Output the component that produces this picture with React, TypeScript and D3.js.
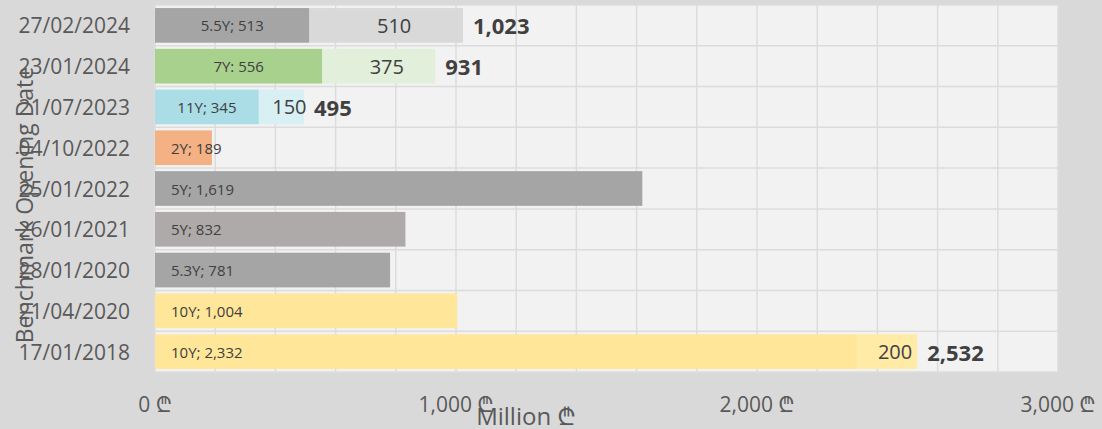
import * as d3 from 'd3';

const dates = ["27/02/2024", "23/01/2024", "21/07/2023", "04/10/2022", "25/01/2022", "26/01/2021", "28/01/2020", "21/04/2020", "17/01/2018"]
const baseValues = [513, 556, 345, 189, 1619, 832, 781, 1004, 2332]
const extraValues = [510, 375, 150, 0, 0, 0, 0, 0, 200]
const baseLabels = ["5.5Y; 513", "7Y: 556", "11Y; 345", "2Y; 189", "5Y; 1,619", "5Y; 832", "5.3Y; 781", "10Y; 1,004", "10Y; 2,332"]
// where the tenor label sits in the bar: centre or inside base
const labelPos = ["center", "center", "center", "base", "base", "base", "base", "base", "base"]
const baseColors = ["#a5a5a5", "#a9d18e", "#aadde5", "#f4b183", "#a5a5a5", "#aeaaaa", "#a5a5a5", "#ffe699", "#ffe699"]
const extraColors = ["#d9d9d9", "#e2efda", "#d8eff3", "#ffffff", "#ffffff", "#ffffff", "#ffffff", "#ffffff", "#ffeaa6"]
const xTicks = [0, 1000, 2000, 3000]

const W = 1102
const H = 429
const FONT = "'Open Sans', 'Noto Sans', sans-serif"
const TEXT = "#595959"
const LABEL = "#404040"

const App = () => {
    const x = d3.scaleLinear().domain([0, 3000]).range([155, 1058])
    const y = d3.scaleBand<string>().domain(dates).range([5, 372]).paddingInner(0.15).paddingOuter(0.075)
    const fmt = d3.format(",")

    const rows = dates.map((d, i) => ({
        date: d,
        base: baseValues[i],
        extra: extraValues[i],
        total: baseValues[i] + extraValues[i],
        label: baseLabels[i],
        pos: labelPos[i],
        color: baseColors[i],
        extraColor: extraColors[i]
    }))

    const step = y.step()
    const gridX = d3.range(0, 3001, 200)
    const gridY = d3.range(0, dates.length + 1).map(i => 5 + i * step)

    return (
        <svg width={W} height={H} style={{position: 'absolute', left: 0, top: 0}} fontFamily={FONT}>
            <rect x={0} y={0} width={W} height={H} fill="#d9d9d9" />
            <rect x={x(0)} y={5} width={x(3000) - x(0)} height={367} fill="#f2f2f2" />

            {/* gridlines */}
            {gridX.map(v => (
                <line key={'gx' + v} x1={x(v)} x2={x(v)} y1={5} y2={372} stroke="#dcdcdc" strokeWidth={1.5} />
            ))}
            {gridY.map((v, i) => (
                <line key={'gy' + i} x1={x(0)} x2={x(3000)} y1={v} y2={v} stroke="#dcdcdc" strokeWidth={1.5} />
            ))}

            {/* bars */}
            {rows.map(r => {
                const y0 = y(r.date) ?? 0
                const bh = y.bandwidth()
                const cy = y0 + bh / 2
                const stacked = r.extra > 0
                const centred = r.pos === "center"
                return (
                    <g key={r.date}>
                        <rect x={x(0)} y={y0} width={x(r.base) - x(0)} height={bh} fill={r.color} />
                        {stacked && <rect x={x(r.base)} y={y0} width={x(r.total) - x(r.base)} height={bh} fill={r.extraColor} />}
                        <text x={centred ? (x(0) + x(r.base)) / 2 : x(0) + 16} y={cy} dominantBaseline="central"
                              textAnchor={centred ? "middle" : "start"} fontSize={15} fill={LABEL}>{r.label}</text>
                        {stacked && <text x={(x(r.base) + x(r.total)) / 2 + 8} y={cy} dominantBaseline="central"
                                          textAnchor="middle" fontSize={20} fill={LABEL}>{fmt(r.extra)}</text>}
                        {stacked && <text x={x(r.total) + 10} y={cy} dominantBaseline="central"
                                          fontSize={22} fontWeight="bold" fill={LABEL}>{fmt(r.total)}</text>}
                    </g>
                )
            })}

            {/* y tick labels */}
            {dates.map(d => (
                <text key={'yl' + d} x={130} y={(y(d) ?? 0) + y.bandwidth() / 2} dominantBaseline="central"
                      textAnchor="end" fontSize={21} fill={TEXT}>{d}</text>
            ))}

            {/* x tick labels */}
            {xTicks.map(t => (
                <text key={'xl' + t} x={x(t)} y={412} textAnchor="middle" fontSize={21} fill={TEXT}>{fmt(t) + " ₾"}</text>
            ))}

            {/* axis titles */}
            <text x={526} y={425} textAnchor="middle" fontSize={24} fill={TEXT}>Million ₾</text>
            <text transform="translate(24,205) rotate(-90)" textAnchor="middle" dominantBaseline="central"
                  fontSize={23} fill={TEXT}>Benchmark Opening Date</text>
        </svg>
    )
}

export default App
